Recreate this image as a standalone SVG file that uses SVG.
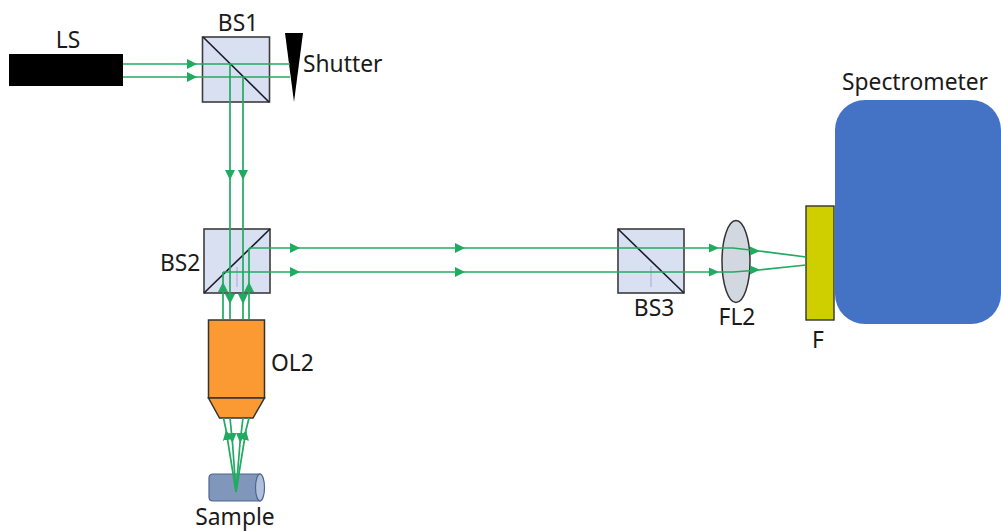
<svg xmlns="http://www.w3.org/2000/svg" width="1001" height="531" viewBox="0 0 1001 531">
<style>
text{font-family:"Noto Sans","DejaVu Sans",sans-serif;font-size:22.800px;fill:#1a1a1a}
.m{text-anchor:middle}
.cube{fill:#d9e0f2;stroke:#3c3c3c;stroke-width:1.600}
.diag{fill:none;stroke:#1a1a2a;stroke-width:1.600}
.beam{fill:none;stroke:#20ab60;stroke-width:1.700;marker-mid:url(#a)}
.faint{stroke:#a9b5d6;stroke-width:1.200;fill:none}
</style>
<defs>
<marker id="a" viewBox="0 0 10 10" refX="10" refY="5" markerUnits="userSpaceOnUse" markerWidth="10" markerHeight="10" orient="auto">
<path d="M0 0L10 5L0 10Z" fill="#20ab60"/>
</marker>
</defs>
<rect width="1001" height="531" fill="#fff"/>
<g id="LS"><rect x="9" y="54" width="114" height="32" fill="#000"/><text class="m" x="68" y="48">LS</text></g>
<g id="BS1"><rect class="cube" x="202.500" y="37" width="67" height="65"/><path class="diag" d="M203 37L269 102"/><text class="m" x="238" y="31">BS1</text></g>
<g id="Shutter"><path d="M285 33H303L294 102Z" fill="#000"/><text x="303" y="72">Shutter</text></g>
<g id="BS2"><rect class="cube" x="204" y="229" width="66" height="64"/><path class="diag" d="M204 293L270 229"/><path class="faint" d="M237 267V287"/><text x="160" y="271">BS2</text></g>
<g id="BS3"><rect class="cube" x="618" y="229" width="66" height="64"/><path class="diag" d="M618 229L684 293"/><path class="faint" d="M651 266V287"/><text class="m" x="654" y="316">BS3</text></g>
<g id="FL2"><ellipse cx="736" cy="261.500" rx="14" ry="41" fill="#d3d8e0" stroke="#333" stroke-width="1.500"/><text class="m" x="737" y="325">FL2</text></g>
<g id="Spectrometer"><rect x="835" y="100" width="166" height="224" rx="30" fill="#4472c4"/><text class="m" x="915" y="90">Spectrometer</text></g>
<g id="F"><rect x="806" y="206" width="28" height="114" fill="#cfcf00" stroke="#333" stroke-width="1.400"/><text class="m" x="818" y="348">F</text></g>
<g id="OL2"><path d="M208.500 320H264.500V398H208.500Z" fill="#fb9a33" stroke="#333" stroke-width="1.500"/><path d="M208.500 398H264.500L253 418H219.500Z" fill="#fb9a33" stroke="#333" stroke-width="1.500"/><text x="271" y="371">OL2</text></g>
<g id="Sample"><path d="M213 474H260V501H213Q209 501 209 497V478Q209 474 213 474Z" fill="#8196bb" stroke="#4c6491" stroke-width="1.200"/><ellipse cx="260" cy="487.500" rx="4.500" ry="13.500" fill="#b3c0dc" stroke="#4c6491" stroke-width="1.200"/><text class="m" x="235" y="525">Sample</text></g>
<g id="connectors">
<path class="beam" d="M123 64L197 64L290 64"/>
<path class="beam" d="M123 77L197 77L290 77"/>
<path class="beam" d="M230 64L230 180L230 304L230 319"/>
<path class="beam" d="M243 77L243 180L243 304L243 319"/>
<path class="beam" d="M223 319L223 282L223 272"/>
<path class="beam" d="M249 319L249 282L249 248"/>
<path class="beam" d="M249 248L300 248L465 248L718 248"/>
<path class="beam" d="M223 272L300 272L465 272L718 272"/>
<path class="beam" d="M718 248L733 248L759 251L806 257" style="marker-mid:none"/>
<path class="beam" d="M718 272L733 272L759 270L806 265" style="marker-mid:none"/>
<path d="M709 243.500L719 248L709 252.500ZM709 267.500L719 272L709 276.500ZM750 246.500L760 251L750 255.500ZM750 265.500L760 269.800L750 274.500Z" fill="#20ab60"/>
<path class="beam" d="M236 492L226 430L223.500 418"/>
<path class="beam" d="M236 492L246 430L249 418"/>
<path class="beam" d="M230 418L232.500 443L236 492"/>
<path class="beam" d="M243 418L240 443L236 492"/>
</g>
</svg>
